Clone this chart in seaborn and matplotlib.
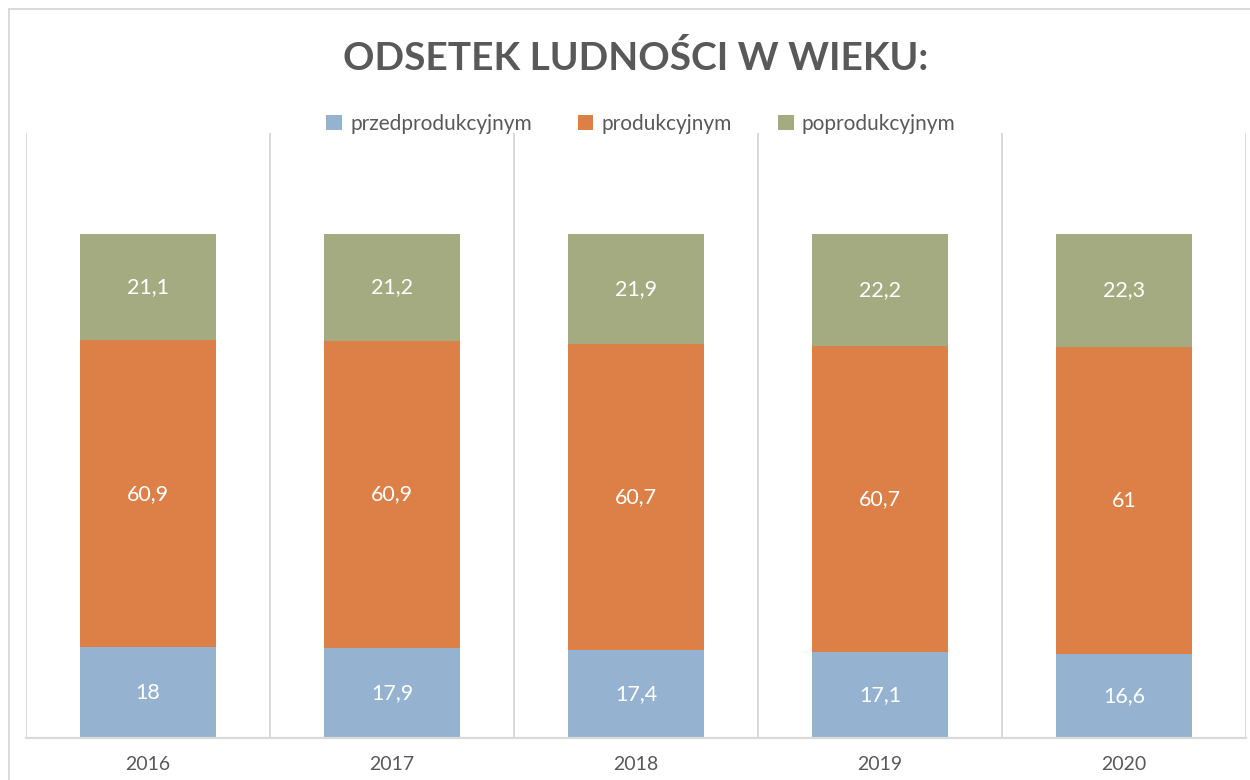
import pandas as pd
import matplotlib
matplotlib.use("Agg")
import matplotlib.pyplot as plt
from matplotlib.patches import Patch, Rectangle
import seaborn as sns

# dane
years = ["2016", "2017", "2018", "2019", "2020"]
przed = [18, 17.9, 17.4, 17.1, 16.6]
prod = [60.9, 60.9, 60.7, 60.7, 61]
poprod = [21.1, 21.2, 21.9, 22.2, 22.3]
series_names = ["przedprodukcyjnym", "produkcyjnym", "poprodukcyjnym"]
colors = ["#95B3D0", "#DD8047", "#A5AB81"]

TXT = "#595959"
GRID = "#D9D9D9"


def fmt(v):
    if float(v).is_integer():
        return str(int(v))
    return str(v).replace(".", ",")


def main():
    sns.set_style("white")
    plt.rcParams["font.family"] = ["Lato", "DejaVu Sans"]

    df = pd.DataFrame({"rok": years, "przed": przed, "prod": prod, "poprod": poprod})
    df["c1"] = df["przed"]
    df["c2"] = df["przed"] + df["prod"]
    df["c3"] = df["c2"] + df["poprod"]

    fig = plt.figure(figsize=(12.5, 7.8), dpi=100)
    ax = fig.add_axes([26 / 1250, 1 - 738 / 780, (1246 - 26) / 1250, (738 - 133) / 780])

    # skumulowane słupki - od najwyższego
    for col, c in zip(["c3", "c2", "c1"], colors[::-1]):
        sns.barplot(data=df, x="rok", y=col, color=c, saturation=1, width=0.56,
                    errorbar=None, linewidth=0, ax=ax, order=years)

    # etykiety wartości
    for i in range(len(years)):
        bottom = 0
        for vals in [przed, prod, poprod]:
            v = vals[i]
            ax.text(i, bottom + v / 2, fmt(v), ha="center", va="center",
                    color="white", fontsize=15.5)
            bottom += v

    ax.set_ylim(0, 120)
    ax.set_xlim(-0.5, len(years) - 0.5)
    ax.set_ylabel("")
    ax.set_xlabel("")
    ax.set_yticks([])
    for s in ["top", "left", "right"]:
        ax.spines[s].set_visible(False)
    ax.spines["bottom"].set_color(GRID)
    ax.spines["bottom"].set_linewidth(1.6)
    for b in range(len(years) + 1):
        ax.axvline(b - 0.5, color=GRID, lw=1.4, zorder=0)
    ax.tick_params(axis="x", length=0, pad=13, labelsize=14, labelcolor=TXT)

    # tytuł i legenda
    fig.text(636 / 1250, 1 - 58 / 780, "ODSETEK LUDNOŚCI W WIEKU:", ha="center", va="center",
             fontsize=28, fontweight="bold", color=TXT)
    handles = [Patch(facecolor=c, edgecolor="none", label=n) for n, c in zip(series_names, colors)]
    fig.legend(handles=handles, loc="center", bbox_to_anchor=(641 / 1250, 1 - 124 / 780),
               ncol=3, frameon=False, fontsize=15, labelcolor=TXT, handlelength=0.75,
               handleheight=0.75, handletextpad=0.4, columnspacing=2.2)

    # ramka wykresu
    fig.patches.append(Rectangle((9 / 1250, -0.1), 1.2, 1.1 - 9.5 / 780, transform=fig.transFigure,
                                 fill=False, edgecolor=GRID, lw=1.4))

    fig.savefig("out.png", dpi=100, facecolor="white")
    plt.close(fig)


if __name__ == "__main__":
    main()
